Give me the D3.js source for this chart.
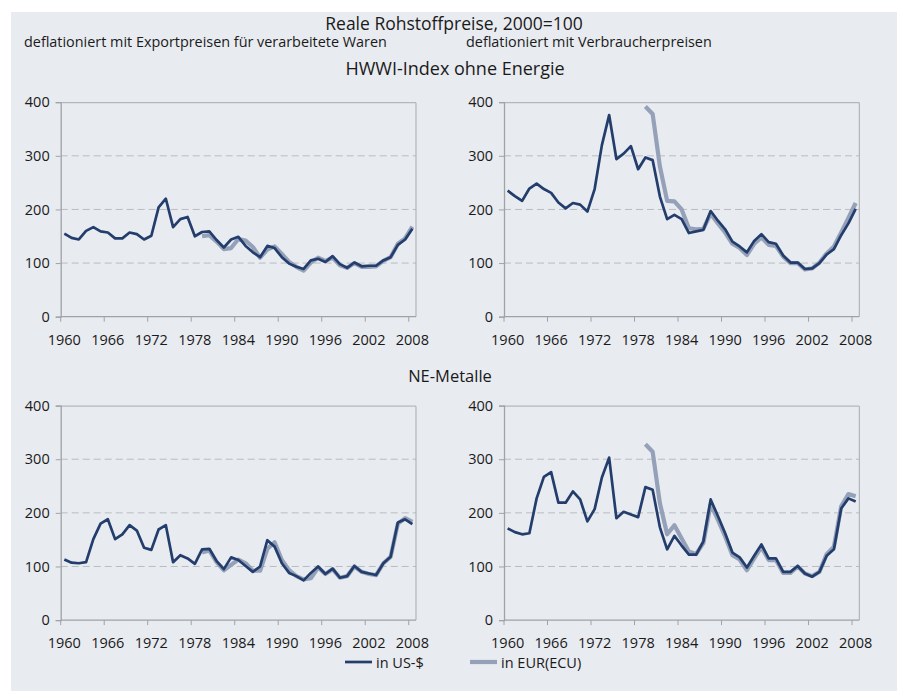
<!DOCTYPE html>
<html>
<head>
<meta charset="utf-8">
<script src="https://cdn.jsdelivr.net/npm/d3@7"></script>
<style>
  body { margin: 0; background: #fff; }
  svg { display: block; font-family: "Open Sans", sans-serif; }
</style>
</head>
<body>
<div id="chart"></div>
<script>
// Jahre (Kategorien) und Achsenbeschriftung
const years = d3.range(1960, 2009);
const xTickYears = [1960, 1966, 1972, 1978, 1984, 1990, 1996, 2002, 2008];
const yTicks = [0, 100, 200, 300, 400];
const eurFirstYear = 1979;

// HWWI-Index ohne Energie, deflationiert mit Exportpreisen
const hwwiExportUsd = [155, 147, 144, 160, 167, 159, 157, 146, 146, 157, 154, 144, 151, 204, 220, 167, 182, 186, 150, 158,
  159, 143, 129, 144, 149, 132, 120, 111, 132, 128, 111, 99, 93, 89, 105, 108, 102, 113, 98, 91,
  101, 94, 95, 95, 105, 111, 134, 144, 164];
const hwwiExportEur = [150, 152, 140, 126, 128, 145, 142, 130, 110, 125, 131, 117, 102, 93, 86, 101, 110, 104, 110, 96,
  91, 100, 93, 93, 94, 104, 111, 136, 146, 168];

// HWWI-Index ohne Energie, deflationiert mit Verbraucherpreisen
const hwwiCpiUsd = [235, 225, 216, 239, 248, 238, 231, 213, 202, 212, 209, 196, 238, 320, 376, 294, 304, 318, 275, 297,
  292, 224, 182, 190, 182, 156, 159, 162, 197, 179, 163, 140, 131, 120, 141, 154, 139, 136, 114, 101,
  101, 89, 90, 100, 116, 126, 152, 174, 201];
const hwwiCpiEur = [392, 378, 280, 216, 215, 200, 165, 163, 164, 192, 174, 157, 136, 128, 115, 136, 148, 134, 132, 112,
  100, 100, 88, 90, 101, 118, 131, 157, 184, 212];

// NE-Metalle, deflationiert mit Exportpreisen
const neExportUsd = [113, 107, 106, 108, 151, 180, 188, 151, 160, 177, 167, 135, 131, 169, 177, 108, 121, 115, 105, 132,
  133, 110, 95, 117, 112, 101, 90, 100, 149, 137, 106, 88, 82, 74, 88, 100, 86, 96, 79, 82,
  101, 90, 87, 84, 106, 118, 182, 188, 179];
const neExportEur = [126, 130, 108, 93, 103, 113, 106, 92, 92, 133, 145, 112, 93, 82, 76, 78, 98, 86, 95, 79,
  82, 100, 90, 86, 84, 106, 118, 180, 190, 183];

// NE-Metalle, deflationiert mit Verbraucherpreisen
const neCpiUsd = [171, 164, 160, 162, 227, 267, 276, 219, 219, 240, 225, 184, 207, 266, 303, 190, 202, 197, 192, 248,
  243, 173, 132, 157, 139, 122, 122, 147, 225, 194, 162, 126, 117, 98, 120, 141, 115, 115, 90, 90,
  101, 87, 81, 90, 120, 132, 208, 227, 221];
const neCpiEur = [328, 314, 218, 160, 177, 152, 128, 123, 144, 216, 187, 156, 121, 113, 93, 115, 136, 112, 112, 88,
  88, 100, 87, 82, 90, 123, 137, 212, 235, 231];

const width = 899;
const height = 691;
const darkBlue = "#233d6c";
const lightBlue = "#95a1b9";

const svg = d3.select("#chart").append("svg")
  .attr("width", width)
  .attr("height", height);

// Hintergrund
svg.append("rect")
  .attr("x", 11).attr("y", 12)
  .attr("width", 886).attr("height", 679)
  .attr("fill", "#e8ebf0");

// Überschriften
const titles = [
  { text: "Reale Rohstoffpreise, 2000=100", x: 454, y: 30, size: 17.5, anchor: "middle" },
  { text: "deflationiert mit Exportpreisen für verarbeitete Waren", x: 24, y: 47, size: 14.4, anchor: "start" },
  { text: "deflationiert mit Verbraucherpreisen", x: 466, y: 47, size: 14.4, anchor: "start" },
  { text: "HWWI-Index ohne Energie", x: 455, y: 75, size: 18, anchor: "middle" },
  { text: "NE-Metalle", x: 450, y: 382, size: 16.5, anchor: "middle" }
];
svg.selectAll("text.title")
  .data(titles)
  .enter()
  .append("text")
  .attr("class", "title")
  .attr("x", d => d.x)
  .attr("y", d => d.y)
  .attr("text-anchor", d => d.anchor)
  .attr("font-size", d => d.size)
  .attr("fill", "#1a1a1a")
  .text(d => d.text);

// =========================
// Ein Teildiagramm zeichnen
// =========================
function drawPanel(left, top, usd, eur) {
  const w = 355.3, h = 214.5;
  const g = svg.append("g").attr("transform", `translate(${left},${top})`);

  const x = d3.scaleBand().domain(years).range([0, w]).paddingInner(0).paddingOuter(0);
  const y = d3.scaleLinear().domain([0, 400]).range([h, 0]);

  // Gitterlinien
  g.selectAll("line.grid")
    .data(yTicks.filter(t => t > 0 && t < 400))
    .enter()
    .append("line")
    .attr("x1", 0).attr("x2", w)
    .attr("y1", d => y(d)).attr("y2", d => y(d))
    .attr("stroke", "#b9bcc1")
    .attr("stroke-width", 1)
    .attr("stroke-dasharray", "7,4");

  // Rahmen rechts und oben
  g.append("path")
    .attr("d", `M0,0.5H${w}V${h}`)
    .attr("fill", "none")
    .attr("stroke", "#a9abae")
    .attr("stroke-width", 1);

  // y-Achse
  const yAxis = d3.axisLeft(y).tickValues(yTicks).tickSize(5).tickPadding(6);
  const ya = g.append("g").call(yAxis);
  ya.select(".domain").attr("stroke", "#a0a2a6").attr("stroke-width", 1.3);
  ya.selectAll(".tick line").attr("stroke", "#a0a2a6");
  ya.selectAll("text").attr("font-size", 14.5).attr("fill", "#1a1a1a")
    .attr("font-family", "Open Sans, sans-serif");

  // x-Achse: Striche an den Kategoriegrenzen, Beschriftung in der Mitte
  const xa = g.append("g").attr("transform", `translate(0,${h})`);
  xa.append("line")
    .attr("x1", 0).attr("x2", w)
    .attr("stroke", "#a0a2a6").attr("stroke-width", 1.3);
  xa.selectAll("line.tick")
    .data(xTickYears)
    .enter()
    .append("line")
    .attr("class", "tick")
    .attr("x1", d => x(d)).attr("x2", d => x(d))
    .attr("y1", 0).attr("y2", 5)
    .attr("stroke", "#a0a2a6");
  xa.selectAll("text")
    .data(xTickYears)
    .enter()
    .append("text")
    .attr("x", d => x(d) + x.bandwidth() / 2)
    .attr("y", 28)
    .attr("text-anchor", "middle")
    .attr("font-size", 14.5)
    .attr("fill", "#1a1a1a")
    .text(d => d);

  const line = d3.line()
    .x(d => x(d.year) + x.bandwidth() / 2)
    .y(d => y(d.value));

  const eurData = eur.map((v, i) => ({ year: eurFirstYear + i, value: v }));
  const usdData = usd.map((v, i) => ({ year: years[i], value: v }));

  g.append("path")
    .datum(eurData)
    .attr("d", line)
    .attr("fill", "none")
    .attr("stroke", lightBlue)
    .attr("stroke-width", 4.2)
    .attr("stroke-linejoin", "round");

  g.append("path")
    .datum(usdData)
    .attr("d", line)
    .attr("fill", "none")
    .attr("stroke", darkBlue)
    .attr("stroke-width", 2.7)
    .attr("stroke-linejoin", "round");
}

drawPanel(60.7, 102.2, hwwiExportUsd, hwwiExportEur);
drawPanel(504, 102.2, hwwiCpiUsd, hwwiCpiEur);
drawPanel(60.7, 405.6, neExportUsd, neExportEur);
drawPanel(504, 405.6, neCpiUsd, neCpiEur);

// Legende
const legendItems = [
  { label: "in US-$", color: darkBlue, width: 2.7, x: 345 },
  { label: "in EUR(ECU)", color: lightBlue, width: 4.2, x: 470 }
];
const legend = svg.append("g");
legend.selectAll("line")
  .data(legendItems)
  .enter()
  .append("line")
  .attr("x1", d => d.x).attr("x2", d => d.x + 27)
  .attr("y1", 662).attr("y2", 662)
  .attr("stroke", d => d.color)
  .attr("stroke-width", d => d.width);
legend.selectAll("text")
  .data(legendItems)
  .enter()
  .append("text")
  .attr("x", d => d.x + 31)
  .attr("y", 667.5)
  .attr("font-size", 14.5)
  .attr("fill", "#1a1a1a")
  .text(d => d.label);
</script>
</body>
</html>
